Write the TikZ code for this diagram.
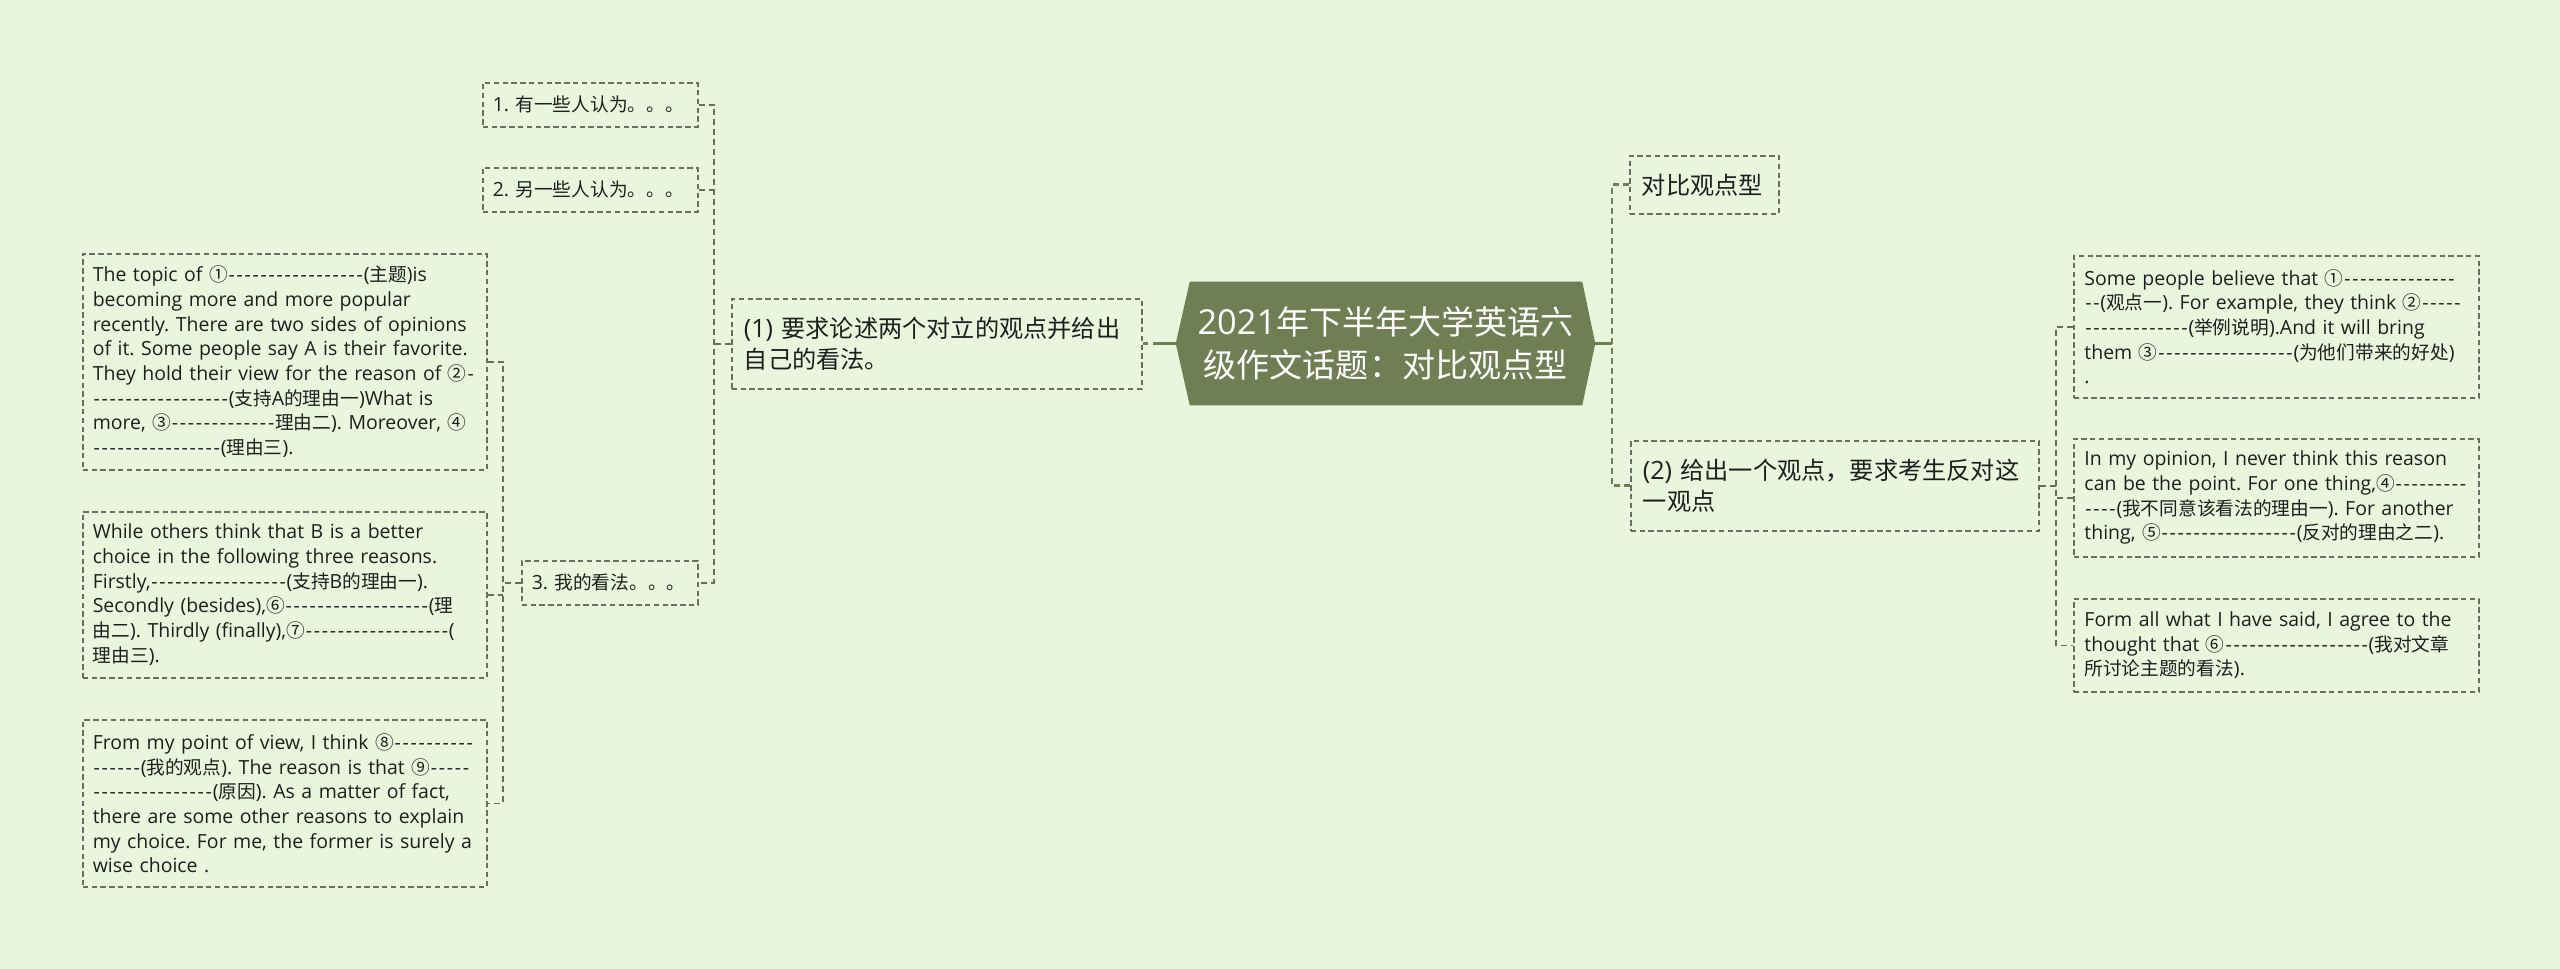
\documentclass[tikz,border=0pt]{standalone}
\usepackage{fontspec}
\setmainfont{Open Sans}
\newfontfamily\zhfont[Scale=0.96]{Noto Sans CJK SC}
\usetikzlibrary{backgrounds}
\definecolor{bgc}{HTML}{E9F5DC}
\definecolor{olivec}{HTML}{6F7E53}
\definecolor{linec}{HTML}{676C5E}
\definecolor{boxc}{HTML}{6B6D62}
\definecolor{txtc}{HTML}{1E1E1E}
\newcommand\zh[1]{{\zhfont #1}}
\newcount\hycnt
\newcommand\hys[1]{\hycnt=#1\relax\loop\makebox[6pt]{-}\advance\hycnt by -1\relax\ifnum\hycnt>0 \repeat}
\newcommand\boxfont{\fontsize{14.6pt}{18.5pt}\selectfont}
\newcommand\lvlfont{\fontsize{18.9pt}{23.25pt}\selectfont}
\newcommand\ctrfont{\fontsize{25.8pt}{32.25pt}\selectfont}
\frenchspacing
\begin{document}
\begin{tikzpicture}[x=0.75pt,y=-0.75pt,
  box/.style={draw=boxc, line width=1.2pt, dash pattern=on 4pt off 2.6pt, anchor=north west, align=left, text=txtc, inner ysep=0pt},
  txtL/.style={box, font=\boxfont, inner xsep=7.5pt, text width=288pt, minimum height=#1},
  txtR/.style={box, font=\boxfont, inner xsep=8pt, text width=287.75pt, minimum height=#1},
  lvltwo/.style={box, font=\boxfont, inner xsep=7.5pt, minimum height=33pt, text width=#1},
  lvlone/.style={box, font=\lvlfont, inner xsep=9pt, text width=#1},
  ctr/.style={font=\ctrfont, text=white, align=center, minimum width=314.25pt, minimum height=92.25pt, inner sep=0pt},
  conn/.style={draw=linec, line width=1.2pt, dash pattern=on 4.5pt off 3pt},
  spineR/.style={draw=olivec, line width=2.2pt, dash pattern=on 4.5pt off 3pt},
  mainline/.style={draw=olivec, line width=2.2pt}
]
\useasboundingbox (0,0) rectangle (2560,969);

% central
\node[ctr] (C) at (1385.5,343.5) {2021\zh{年下半年大学英语六}\\\zh{级作文话题：对比观点型}};

% level one
\node[lvlone=289.5pt, minimum height=67.5pt] (N1) at (731,298) {\mbox{(1) \zh{要求论述两个对立的观点并给出}}\\\mbox{\zh{自己的看法。}}};
\node[lvlone=93.75pt, minimum height=43.5pt] (N2) at (1629,155) {\mbox{\zh{对比观点型}}};
\node[lvlone=288pt, minimum height=67.5pt] (N3) at (1630,440) {\mbox{(2) \zh{给出一个观点，要求考生反对这}}\\\mbox{\zh{一观点}}};

% level two (left)
\node[lvltwo=146.25pt] (L1) at (482,82) {\mbox{1. \zh{有一些人认为。。。}}};
\node[lvltwo=146.25pt] (L2) at (482,167) {\mbox{2. \zh{另一些人认为。。。}}};
\node[lvltwo=117pt] (L3) at (521,560) {\mbox{3. \zh{我的看法。。。}}};

% level three (left)
\node[txtL=162pt] (A) at (82,253) {%
\mbox{The topic of \zh{①}\hys{17}(\zh{主题})is}\\
\mbox{becoming more and more popular}\\
\mbox{recently. There are two sides of opinions}\\
\mbox{of it. Some people say A is their favorite.}\\
\mbox{They hold their view for the reason of \zh{②}\hys{1}}\\
\mbox{\hys{17}(\zh{支持}A\zh{的理由一})What is}\\
\mbox{more, \zh{③}\hys{13}\zh{理由二}). Moreover, \zh{④}}\\
\mbox{\hys{16}(\zh{理由三}).}};
\node[txtL=124.5pt] (B) at (82,511) {%
\mbox{While others think that B is a better}\\
\mbox{choice in the following three reasons.}\\
\mbox{Firstly,\hys{17}(\zh{支持}B\zh{的理由一}).}\\
\mbox{Secondly (besides),\zh{⑥}\hys{18}(\zh{理}}\\
\mbox{\zh{由二}). Thirdly (finally),\zh{⑦}\hys{18}(}\\
\mbox{\zh{理由三}).}};
\node[txtL=125.25pt] (D) at (82,719) {%
\mbox{From my point of view, I think \zh{⑧}\hys{10}}\\
\mbox{\hys{6}(\zh{我的观点}). The reason is that \zh{⑨}\hys{5}}\\
\mbox{\hys{15}(\zh{原因}). As a matter of fact,}\\
\mbox{there are some other reasons to explain}\\
\mbox{my choice. For me, the former is surely a}\\
\mbox{wise choice .}};

% level two (right)
\node[txtR=106.5pt] (R1) at (2073,255) {%
\mbox{Some people believe that \zh{①}\hys{14}}\\
\mbox{\hys{2}(\zh{观点一}). For example, they think \zh{②}\hys{5}}\\
\mbox{\hys{13}(\zh{举例说明}).And it will bring}\\
\mbox{them \zh{③}\hys{17}(\zh{为他们带来的好处})}\\
\mbox{.}};
\node[txtR=88.5pt] (R2) at (2073,438) {%
\mbox{In my opinion, I never think this reason}\\
\mbox{can be the point. For one thing,\zh{④}\hys{9}}\\
\mbox{\hys{4}(\zh{我不同意该看法的理由一}). For another}\\
\mbox{thing, \zh{⑤}\hys{17}(\zh{反对的理由之二}).}};
\node[txtR=69.75pt] (R3) at (2073,598) {%
\mbox{Form all what I have said, I agree to the}\\
\mbox{thought that \zh{⑥}\hys{18}(\zh{我对文章}}\\
\mbox{\zh{所讨论主题的看法}).}};

% spine coordinates
\coordinate (sL) at (714,0);
\coordinate (sLL) at (503,0);
\coordinate (sR) at (1612,0);
\coordinate (sRR) at (2056,0);

% connectors
\draw[mainline, dash pattern=on 3.75pt off 3.75pt on 80pt] (N1.east) -- (N1.east -| C.west);
\draw[mainline] (C.east) -- (C.east -| sR);
\draw[spineR] (N2.west) -- (N2.west -| sR) -- (N3.west -| sR) -- (N3.west);

\draw[conn] (L1.east) -- (L1.east -| sL) -- (L3.east -| sL) -- (L3.east);
\draw[conn] (L2.east) -- (L2.east -| sL);
\draw[conn] (N1.west) -- (N1.west -| sL);

\draw[conn] (A.east) -- (A.east -| sLL) -- (D.east -| sLL) -- (D.east);
\draw[conn] (B.east) -- (B.east -| sLL);
\draw[conn] (L3.west) -- (L3.west -| sLL);

\draw[conn] (R1.west) -- (R1.west -| sRR) -- (R3.west -| sRR) -- (R3.west);
\draw[conn] (R2.west) -- (R2.west -| sRR);
\draw[conn] (N3.east) -- (N3.east -| sRR);

\begin{pgfonlayer}{background}
  \fill[bgc] (0,0) rectangle (2560,969);
  \fill[olivec] ([xshift=10.5pt]C.north west) -- ([xshift=-9.75pt]C.north east) -- (C.east) -- ([xshift=-9.75pt]C.south east) -- ([xshift=10.5pt]C.south west) -- (C.west) -- cycle;
\end{pgfonlayer}
\end{tikzpicture}
\end{document}
